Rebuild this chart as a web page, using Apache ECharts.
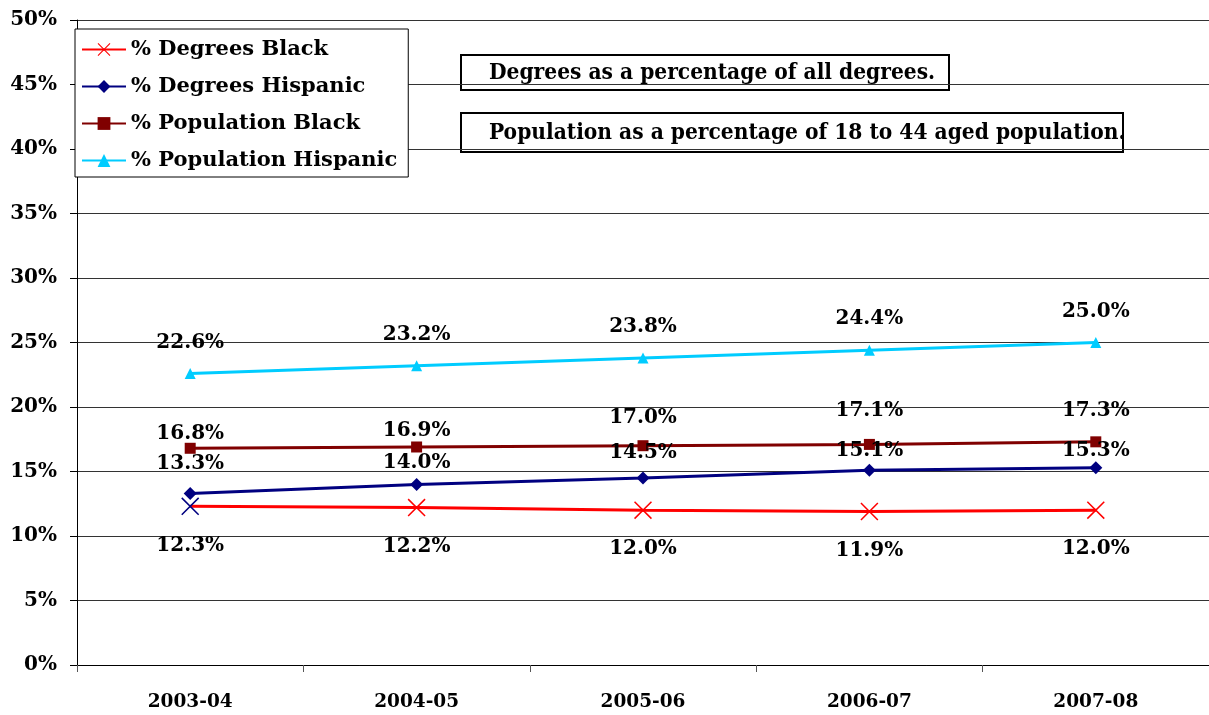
<!DOCTYPE html>
<html>
<head>
<meta charset="utf-8">
<script src="https://cdn.jsdelivr.net/npm/echarts@6/dist/echarts.min.js"></script>
<style>
html,body{margin:0;padding:0;background:#fff;}
#chart{width:1209px;height:715px;}
</style>
</head>
<body>
<div id="chart"></div>
<script>
// School years on the category axis
const years = ['2003-04', '2004-05', '2005-06', '2006-07', '2007-08'];

// Shares, in percent
const degreesBlack = [12.3, 12.2, 12.0, 11.9, 12.0];
const degreesHispanic = [13.3, 14.0, 14.5, 15.1, 15.3];
const populationBlack = [16.8, 16.9, 17.0, 17.1, 17.3];
const populationHispanic = [22.6, 23.2, 23.8, 24.4, 25.0];

// Series names shown in the legend
const seriesNames = ['% Degrees Black', '% Degrees Hispanic', '% Population Black', '% Population Hispanic'];

// Annotation boxes
const notes = ['Degrees as a percentage of all degrees.', 'Population as a percentage of 18 to 44 aged population.'];

const FONT = '"DejaVu Serif", serif';
const NOTE_FONT = 'bold 22.5px "DejaVu Serif Condensed", "DejaVu Serif", serif';
// thin X-shaped marker
const crossPath = 'path://M0,0.6L0.6,0L10,9.4L9.4,10ZM9.4,0L10,0.6L0.6,10L0,9.4Z';

const labelStyle = (pos, dist) => ({
  show: true,
  position: pos,
  distance: dist,
  formatter: p => p.value.toFixed(1) + '%',
  color: '#000',
  fontFamily: FONT,
  fontWeight: 'bold',
  fontSize: 20
});

// Attach a per-point label gap (hand-placed labels)
const withLabelGaps = (values, gaps) => values.map((v, i) => ({value: v, label: {distance: gaps[i]}}));

const chart = echarts.init(document.getElementById('chart'), null, {renderer: 'canvas'});

chart.setOption({
  animation: false,
  backgroundColor: '#fff',
  grid: {left: 77, right: -5, top: 20, bottom: 50, containLabel: false},
  legend: {
    orient: 'vertical',
    left: 75,
    top: 29,
    data: seriesNames,
    backgroundColor: '#fff',
    borderColor: '#000',
    borderWidth: 1,
    padding: [10, 11, 6, 6],
    itemGap: 16,
    itemWidth: 44,
    itemHeight: 16,
    textStyle: {fontFamily: FONT, fontWeight: 'bold', fontSize: 21, color: '#000'}
  },
  xAxis: {
    type: 'category',
    data: years,
    boundaryGap: true,
    axisLine: {lineStyle: {color: '#000', width: 1}},
    axisTick: {show: true, length: 7, lineStyle: {color: '#555'}},
    axisLabel: {margin: 28, color: '#000', fontFamily: FONT, fontWeight: 'bold', fontSize: 18.5}
  },
  yAxis: {
    type: 'value',
    min: 0,
    max: 50,
    interval: 5,
    axisLine: {show: true, lineStyle: {color: '#000', width: 1}},
    axisTick: {show: true, length: 7, lineStyle: {color: '#000'}},
    axisLabel: {margin: 20, color: '#000', fontFamily: FONT, fontWeight: 'bold', fontSize: 20, formatter: '{value}%'},
    splitLine: {show: true, lineStyle: {color: '#333', width: 1}}
  },
  series: [
    {
      name: seriesNames[0],
      type: 'line',
      data: degreesBlack.map((v, i) => i === 0 ? {value: v, itemStyle: {color: '#000080'}} : v),
      color: '#FF0000',
      symbol: crossPath,
      symbolSize: 18,
      lineStyle: {width: 3, color: '#FF0000'},
      itemStyle: {color: '#FF0000'},
      label: labelStyle('bottom', 20),
      z: 4
    },
    {
      name: seriesNames[1],
      type: 'line',
      data: withLabelGaps(degreesHispanic, [13.5, 5.5, 8.5, 2.5, 0.5]),
      color: '#000080',
      symbol: 'diamond',
      symbolSize: 13,
      lineStyle: {width: 3, color: '#000080'},
      itemStyle: {color: '#000080'},
      label: labelStyle('top', 8),
      z: 3
    },
    {
      name: seriesNames[2],
      type: 'line',
      data: withLabelGaps(populationBlack, [-1.5, 0.5, 12.5, 18.5, 15.5]),
      color: '#800000',
      symbol: 'rect',
      symbolSize: 11,
      lineStyle: {width: 3, color: '#800000'},
      itemStyle: {color: '#800000'},
      label: labelStyle('top', 5),
      z: 3
    },
    {
      name: seriesNames[3],
      type: 'line',
      data: populationHispanic,
      color: '#00CCFF',
      symbol: 'triangle',
      symbolSize: 11,
      lineStyle: {width: 3, color: '#00CCFF'},
      itemStyle: {color: '#00CCFF'},
      label: labelStyle('top', 15.5),
      z: 3
    }
  ],
  graphic: [
    {
      type: 'group', left: 460, top: 54,
      children: [
        {type: 'rect', shape: {x: 0, y: 0, width: 488, height: 35}, style: {fill: '#fff', stroke: '#000', lineWidth: 2}},
        {type: 'text', x: 28, y: 18, style: {text: notes[0], fill: '#000', font: NOTE_FONT, verticalAlign: 'middle'}}
      ]
    },
    {
      type: 'group', left: 460, top: 112,
      children: [
        {type: 'rect', shape: {x: 0, y: 0, width: 662, height: 39}, style: {fill: '#fff', stroke: '#000', lineWidth: 2}},
        {type: 'text', x: 28, y: 20, style: {text: notes[1], fill: '#000', font: NOTE_FONT, verticalAlign: 'middle'}}
      ]
    }
  ]
});
</script>
</body>
</html>
